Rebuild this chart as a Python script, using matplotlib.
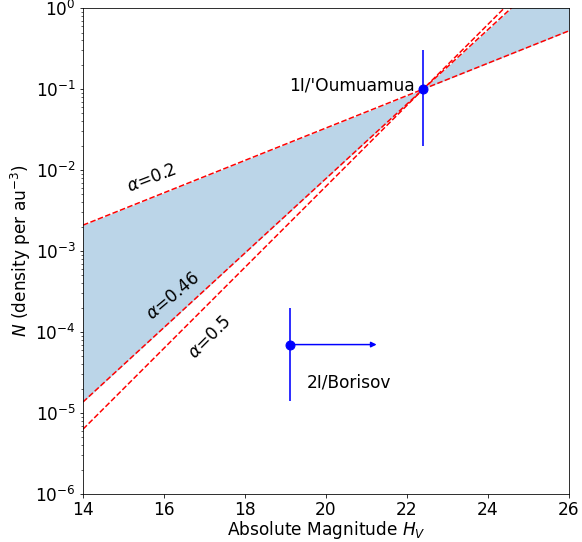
import numpy as np
import matplotlib
matplotlib.use("Agg")
import matplotlib.pyplot as plt

# Reference point: 1I/'Oumuamua
oum_H = 22.4
oum_N = 0.1
oum_N_lo = 0.02
oum_N_hi = 0.3

# 2I/Borisov (lower limit in H)
bor_H = 19.1
bor_N = 7e-5
bor_N_lo = 1.4e-5
bor_N_hi = 2e-4
bor_H_arrow_end = 21.25

# Power-law slopes
alphas = [0.2, 0.46, 0.5]
alpha_labels = [r"$\alpha$=0.2", r"$\alpha$=0.46", r"$\alpha$=0.5"]

DPI = 72
plt.rcParams["font.size"] = 17

fig, ax = plt.subplots(figsize=(582 / DPI, 542 / DPI), dpi=DPI)
fig.subplots_adjust(left=0.1426, right=0.9777, top=0.985, bottom=0.0886)

H = np.linspace(14, 26, 400)
curves = {a: oum_N * 10 ** (a * (H - oum_H)) for a in alphas}

ax.fill_between(H, curves[0.2], curves[0.46], color="C0", alpha=0.3, lw=0)
for a in alphas:
    ax.plot(H, curves[a], "r--", lw=1.5)

ax.errorbar([oum_H], [oum_N], yerr=[[oum_N - oum_N_lo], [oum_N_hi - oum_N]],
            fmt="o", color="blue", ms=9, elinewidth=1.6)
ax.errorbar([bor_H], [bor_N], yerr=[[bor_N - bor_N_lo], [bor_N_hi - bor_N]],
            fmt="o", color="blue", ms=9, elinewidth=1.6)
ax.annotate("", xy=(bor_H_arrow_end, bor_N), xytext=(bor_H, bor_N),
            arrowprops=dict(arrowstyle="-|>", color="blue", lw=1.5,
                            mutation_scale=11, shrinkA=0, shrinkB=0))

ax.text(22.2, 0.11, "1I/'Oumuamua", ha="right", va="center")
ax.text(19.53, 2.35e-5, "2I/Borisov", ha="left", va="center")

ax.text(15.7, 7.9e-3, alpha_labels[0], rotation=21, ha="center", va="center")
ax.text(16.22, 2.8e-4, alpha_labels[1], rotation=40, ha="center", va="center")
ax.text(17.14, 8.5e-5, alpha_labels[2], rotation=45, ha="center", va="center")

ax.set_yscale("log")
ax.set_xlim(14, 26)
ax.set_ylim(1e-6, 1)
ax.set_xticks([14, 16, 18, 20, 22, 24, 26])
ax.set_xlabel(r"Absolute Magnitude $H_V$", labelpad=0)
ax.set_ylabel(r"$N$ (density per au$^{-3}$)", labelpad=2)

fig.savefig("out.png", dpi=DPI)
